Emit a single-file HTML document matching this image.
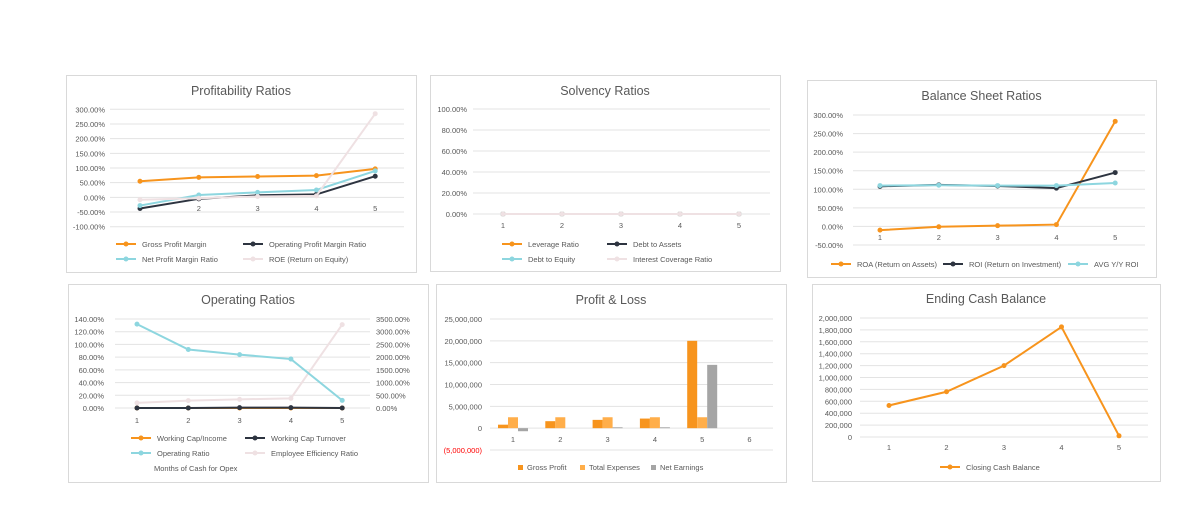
<!DOCTYPE html>
<html><head><meta charset="utf-8"><style>
body{margin:0;background:#fff;width:1204px;height:516px;overflow:hidden}
svg{font-family:"Liberation Sans",sans-serif}
</style></head><body>
<svg id="s" width="1204" height="516"></svg>
<script>
const cats5=[1,2,3,4,5];
const cats6=[1,2,3,4,5,6];
// Profitability
const profTicks=[300,250,200,150,100,50,0,-50,-100];
const grossMargin=[55,68,71,74,97];
const opMargin=[-38,-5,7,10,72];
const netMargin=[-28,8,17,25,90];
const roe=[-8,-3,3,5,285];
// Solvency
const solvTicks=[100,80,60,40,20,0];
const leverage=[0,0,0,0,0];
const debtAssets=[0,0,0,0,0];
const debtEquity=[0,0,0,0,0];
const interestCov=[0,0,0,0,0];
// Balance sheet
const balTicks=[300,250,200,150,100,50,0,-50];
const roa=[-10,-1,2,5,283];
const roi=[108,112,109,103,145];
const avgRoi=[110,111,110,110,117];
// Operating
const opLeftTicks=[140,120,100,80,60,40,20,0];
const opRightTicks=[3500,3000,2500,2000,1500,1000,500,0];
const wcIncome=[0,0,0,0,0];
const wcTurnover=[0,0,0.5,0.5,0];
const operatingRatio=[132,92,84,77,12];
const employeeEff=[200,290,340,380,3280];
// P&L
const plTicks=[25000000,20000000,15000000,10000000,5000000,0,-5000000];
const grossProfit=[800000,1600000,1900000,2200000,20000000,0];
const totalExpenses=[2500000,2500000,2500000,2500000,2500000,0];
const netEarnings=[-700000,0,200000,200000,14500000,0];
// Cash
const cashTicks=[2000000,1800000,1600000,1400000,1200000,1000000,800000,600000,400000,200000,0];
const closingCash=[530000,760000,1200000,1850000,20000];

const NS="http://www.w3.org/2000/svg";
const S=document.getElementById('s');
function el(tag,attrs,parent,text){const e=document.createElementNS(NS,tag);for(const k in attrs)e.setAttribute(k,attrs[k]);if(text!==undefined)e.textContent=text;(parent||S).appendChild(e);return e;}
const OR='#f7941d',OR2='#ffae4a',BK='#2d3440',CY='#8dd6df',PK='#efe1e3',GR='#a5a5a5';
function fmtPct(v){return v.toFixed(2)+'%';}
function fmtNum(v){if(v<0)return '('+Math.abs(v).toLocaleString('en-US')+')';return v.toLocaleString('en-US');}

function panel(name,x,y,w,h,title,ty){
  const g=el('g',{});
  
  
  const r=el('rect',{x:x+0.5,y:y+0.5,width:w,height:h,fill:'#fff',stroke:'#d9d9d9'},g);
  
  
  const t=el('text',{x:x+w/2,y:ty,'text-anchor':'middle','font-size':'12.5',fill:'#595959'},g,title);
  
  
  return g;
}
function yAxis(g,name,ticks,fy,x0,x1,lx,fmt,anchor,color){
  ticks.forEach(v=>{
    const yy=fy(v);
    const l=el('line',{x1:x0,x2:x1,y1:yy,y2:yy,stroke:'#e3e3e3','stroke-width':1},g);
    
    
    const t=el('text',{x:lx,y:yy+3,'text-anchor':anchor||'end','font-size':'7.5',fill:color&&v<0?color:'#595959'},g,fmt(v));
    
    
  });
}
function xLabels(g,name,cats,fx,yy){
  cats.forEach((c,i)=>{
    const t=el('text',{x:fx(i),y:yy,'text-anchor':'middle','font-size':'7.5',fill:'#595959'},g,String(c));
    
    
  });
}
function series(g,name,vals,fx,fy,color,marker){
  const pts=vals.map((v,i)=>fx(i)+','+fy(v)).join(' ');
  const p=el('polyline',{points:pts,fill:'none',stroke:color,'stroke-width':2},g);
  
  
  if(marker!==false)vals.forEach((v,i)=>{
    const c=el('circle',{cx:fx(i),cy:fy(v),r:2.5,fill:color},g);
    
    
  });
}
function legendLine(g,name,x,y,color,label){
  const l=el('line',{x1:x,x2:x+20,y1:y,y2:y,stroke:color,'stroke-width':2},g);
  
  
  const c=el('circle',{cx:x+10,cy:y,r:2.5,fill:color},g);
  
  
  const t=el('text',{x:x+26,y:y+3,'font-size':'7.5',fill:'#595959'},g,label);
  
  
}
function lin(d0,d1,p0,p1){return v=>p0+(v-d0)*(p1-p0)/(d1-d0);}

// 1 Profitability
(function(){
  const g=panel('profitability-panel',66,75,350,197,'Profitability Ratios',95);
  const fy=lin(-100,300,226.7,109.3), fx=i=>140+i*58.8;
  yAxis(g,'profitability',profTicks,fy,110,404,105,fmtPct);
  xLabels(g,'profitability',cats5.slice(1),i=>fx(i+1),211);
  series(g,'gross-profit-margin',grossMargin,fx,fy,OR);
  series(g,'operating-profit-margin',opMargin,fx,fy,BK);
  series(g,'net-profit-margin',netMargin,fx,fy,CY);
  series(g,'roe',roe,fx,fy,PK);
  legendLine(g,'gross-profit-margin',116,244,OR,'Gross Profit Margin');
  legendLine(g,'operating-profit-margin',243,244,BK,'Operating Profit Margin Ratio');
  legendLine(g,'net-profit-margin',116,259,CY,'Net Profit Margin Ratio');
  legendLine(g,'roe',243,259,PK,'ROE (Return on Equity)');
})();

// 2 Solvency
(function(){
  const g=panel('solvency-panel',430,75,350,196,'Solvency Ratios',95);
  const fy=lin(0,100,214,109), fx=i=>503+i*59;
  yAxis(g,'solvency',solvTicks,fy,473,770,467,fmtPct);
  xLabels(g,'solvency',cats5,fx,228);
  series(g,'leverage-ratio',leverage,fx,fy,OR);
  series(g,'debt-to-assets',debtAssets,fx,fy,BK);
  series(g,'debt-to-equity',debtEquity,fx,fy,CY);
  series(g,'interest-coverage',interestCov,fx,fy,PK);
  legendLine(g,'leverage-ratio',502,244,OR,'Leverage Ratio');
  legendLine(g,'debt-to-assets',607,244,BK,'Debt to Assets');
  legendLine(g,'debt-to-equity',502,259,CY,'Debt to Equity');
  legendLine(g,'interest-coverage',607,259,PK,'Interest Coverage Ratio');
})();

// 3 Balance sheet
(function(){
  const g=panel('balance-sheet-panel',807,80,349,197,'Balance Sheet Ratios',100);
  const fy=lin(-50,300,245,115), fx=i=>880+i*58.8;
  yAxis(g,'balance',balTicks,fy,853,1145,843,fmtPct);
  xLabels(g,'balance',cats5,fx,240);
  series(g,'roa',roa,fx,fy,OR);
  series(g,'roi',roi,fx,fy,BK);
  series(g,'avg-yy-roi',avgRoi,fx,fy,CY);
  legendLine(g,'roa',831,264,OR,'ROA (Return on Assets)');
  legendLine(g,'roi',943,264,BK,'ROI (Return on Investment)');
  legendLine(g,'avg-yy-roi',1068,264,CY,'AVG Y/Y ROI');
})();

// 4 Operating
(function(){
  const g=panel('operating-panel',68,284,360,198,'Operating Ratios',304);
  const fy=lin(0,140,408,319), fy2=lin(0,3500,408,319), fx=i=>137+i*51.3;
  yAxis(g,'operating-left',opLeftTicks,fy,115,370,104,fmtPct);
  opRightTicks.forEach(v=>{
    const t=el('text',{x:376,y:fy2(v)+3,'font-size':'7.5',fill:'#595959'},g,fmtPct(v));
    
    
  });
  xLabels(g,'operating',cats5,fx,423);
  series(g,'employee-efficiency',employeeEff,fx,fy2,PK);
  series(g,'working-cap-income',wcIncome,fx,fy,OR);
  series(g,'working-cap-turnover',wcTurnover,fx,fy,BK);
  series(g,'operating-ratio',operatingRatio,fx,fy,CY);
  legendLine(g,'working-cap-income',131,438,OR,'Working Cap/Income');
  legendLine(g,'working-cap-turnover',245,438,BK,'Working Cap Turnover');
  legendLine(g,'operating-ratio',131,453,CY,'Operating Ratio');
  legendLine(g,'employee-efficiency',245,453,PK,'Employee Efficiency Ratio');
  const t=el('text',{x:154,y:471,'font-size':'7.5',fill:'#595959'},g,'Months of Cash for Opex');
  
  
})();

// 5 P&L
(function(){
  const g=panel('profit-loss-panel',436,284,350,198,'Profit & Loss',304);
  const fy=lin(-5000000,25000000,450,319), fx=i=>513+i*47.3;
  yAxis(g,'profit-loss',plTicks,fy,490,773,482,fmtNum,'end','#ff0000');
  xLabels(g,'profit-loss',cats6,fx,442);
  const bw=10;
  const sets=[[grossProfit,OR,'gross-profit'],[totalExpenses,OR2,'total-expenses'],[netEarnings,GR,'net-earnings']];
  sets.forEach((s,k)=>{
    s[0].forEach((v,i)=>{
      const x=fx(i)-15+k*bw, y0=fy(0), y1=fy(v);
      const r=el('rect',{x:x,y:Math.min(y0,y1),width:bw,height:Math.abs(y1-y0),fill:s[1]},g);
      
      
    });
  });
  const leg=[[518,OR,'Gross Profit','gross-profit'],[580,OR2,'Total Expenses','total-expenses'],[651,GR,'Net Earnings','net-earnings']];
  leg.forEach(l=>{
    const r=el('rect',{x:l[0],y:465,width:5,height:5,fill:l[1]},g);
    
    
    const t=el('text',{x:l[0]+9,y:470,'font-size':'7.5',fill:'#595959'},g,l[2]);
    
    
  });
})();

// 6 Cash
(function(){
  const g=panel('ending-cash-panel',812,284,348,197,'Ending Cash Balance',303);
  const fy=lin(0,2000000,437,318), fx=i=>889+i*57.5;
  yAxis(g,'cash',cashTicks,fy,860,1148,852,fmtNum);
  xLabels(g,'cash',cats5,fx,450);
  series(g,'closing-cash-balance',closingCash,fx,fy,OR);
  legendLine(g,'closing-cash-balance',940,467,OR,'Closing Cash Balance');
})();
</script>
</body></html>
